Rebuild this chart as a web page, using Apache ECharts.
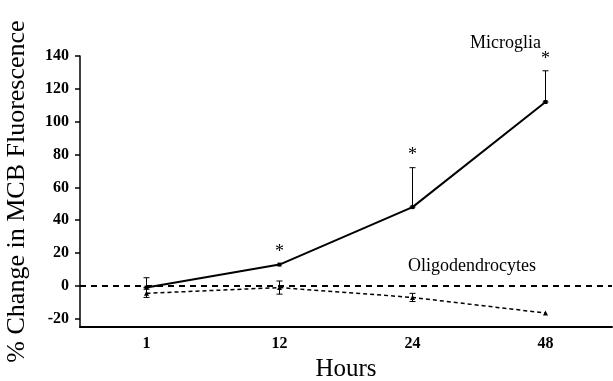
<!DOCTYPE html>
<html>
<head>
<meta charset="utf-8">
<script src="https://cdn.jsdelivr.net/npm/echarts@6/dist/echarts.min.js"></script>
<style>
  html, body { margin: 0; padding: 0; background: #fff; }
  #chart { width: 613px; height: 381px; }
</style>
</head>
<body>
<div id="chart"></div>
<script>
// hours (category labels)
const hours = ['1', '12', '24', '48']
const yTicks = [-20, 0, 20, 40, 60, 80, 100, 120, 140]

// microglia: mean and upper error bar end
const microglia = [-1, 13, 48, 112]
const microgliaTop = [5, 13, 72, 131]
const microgliaSig = [false, true, true, true]

// oligodendrocytes: mean, low and high
const oligo = [-4.5, -1, -7, -16.5]
const oligoLow = [-7, -5, -9.5, -16.5]
const oligoHigh = [-2, 3, -4.5, -16.5]

const serif = 'Liberation Serif'

// error bar drawing (with optional asterisk above)
function errorBar(lowArr, highArr, sigArr) {
  return function (params, api) {
    const i = api.value(0)
    const lo = api.coord([i, lowArr[i]])
    const hi = api.coord([i, highArr[i]])
    const cap = 3
    const children = []
    if (Math.abs(lo[1] - hi[1]) > 1) {
      children.push(
        { type: 'line', shape: { x1: lo[0], y1: lo[1], x2: hi[0], y2: hi[1] }, style: { stroke: '#000', lineWidth: 1 } },
        { type: 'line', shape: { x1: hi[0] - cap, y1: hi[1], x2: hi[0] + cap, y2: hi[1] }, style: { stroke: '#000', lineWidth: 1 } },
        { type: 'line', shape: { x1: lo[0] - cap, y1: lo[1], x2: lo[0] + cap, y2: lo[1] }, style: { stroke: '#000', lineWidth: 1 } }
      )
    }
    if (sigArr && sigArr[i]) {
      children.push({
        type: 'text',
        style: { x: hi[0], y: hi[1] - 3, text: '*', fill: '#000', font: '18px ' + serif, align: 'center', verticalAlign: 'bottom' }
      })
    }
    return { type: 'group', children: children }
  }
}

let myChart = echarts.init(document.getElementById('chart'))
myChart.setOption({
  animation: false,
  backgroundColor: '#fff',
  grid: { left: 80, right: 1, top: 56, bottom: 54, outerBoundsMode: 'none', containLabel: false },
  xAxis: {
    type: 'category',
    data: hours,
    boundaryGap: true,
    name: 'Hours',
    nameLocation: 'middle',
    nameGap: 25,
    nameTextStyle: { fontFamily: serif, fontSize: 25, color: '#000' },
    axisLine: { onZero: false, lineStyle: { color: '#000', width: 2 } },
    axisTick: { show: false },
    axisLabel: { fontFamily: serif, fontWeight: 'bold', fontSize: 16, color: '#000', margin: 9 },
    splitLine: { show: false }
  },
  yAxis: {
    type: 'value',
    min: -25,
    max: 140,
    name: '% Change in MCB Fluorescence',
    nameLocation: 'middle',
    nameGap: 50,
    nameTextStyle: { fontFamily: serif, fontSize: 26, color: '#000' },
    axisLine: { show: true, lineStyle: { color: '#000', width: 1.5 } },
    axisTick: { show: true, customValues: yTicks, length: 5, lineStyle: { color: '#000', width: 1.5 } },
    axisLabel: { customValues: yTicks, fontFamily: serif, fontWeight: 'bold', fontSize: 16, color: '#000', margin: 11 },
    splitLine: { show: false }
  },
  graphic: [
    { type: 'text', left: 470, top: 34, style: { text: 'Microglia', font: '18px ' + serif, fill: '#000' } },
    { type: 'text', left: 408, top: 257, style: { text: 'Oligodendrocytes', font: '18px ' + serif, fill: '#000' } }
  ],
  series: [
    {
      name: 'Oligodendrocytes',
      type: 'line',
      data: oligo,
      symbol: 'triangle',
      symbolSize: 5,
      itemStyle: { color: '#000' },
      lineStyle: { color: '#000', width: 1.5, type: [4, 3] },
      markLine: {
        silent: true,
        symbol: 'none',
        label: { show: false },
        lineStyle: { color: '#000', width: 2, type: [6, 5] },
        data: [{ yAxis: 0 }]
      },
      z: 3
    },
    {
      name: 'Microglia',
      type: 'line',
      data: microglia,
      symbol: 'rect',
      symbolSize: 4,
      itemStyle: { color: '#000' },
      lineStyle: { color: '#000', width: 2 },
      z: 4
    },
    {
      type: 'custom',
      data: hours.map((h, i) => [i]),
      renderItem: errorBar(microglia, microgliaTop, microgliaSig),
      z: 5
    },
    {
      type: 'custom',
      data: hours.map((h, i) => [i]),
      renderItem: errorBar(oligoLow, oligoHigh, null),
      z: 5
    }
  ]
})
</script>
</body>
</html>
